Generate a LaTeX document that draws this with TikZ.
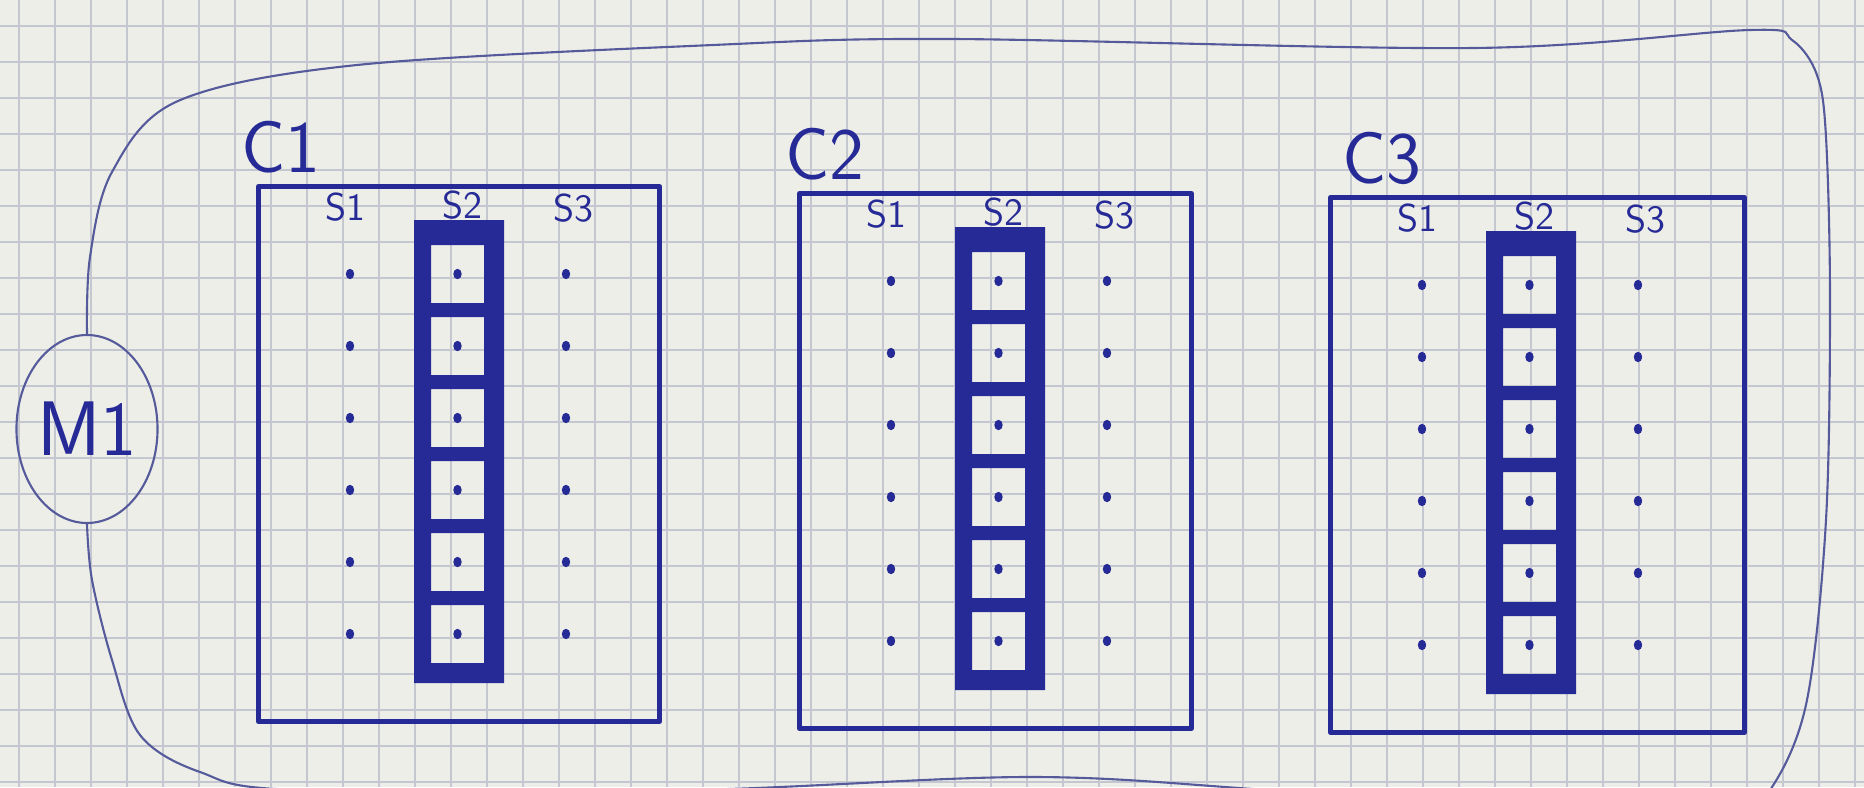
\documentclass[tikz,border=0pt]{standalone}
\usetikzlibrary{shapes.geometric}
\definecolor{paper}{RGB}{238,238,232}
\definecolor{gridc}{RGB}{196,199,208}
\definecolor{ink}{RGB}{38,42,150}
\definecolor{thinink}{RGB}{85,90,155}

\begin{document}
\begin{tikzpicture}[line join=round,
  paperline/.style={gridc, line width=0.45pt},
  cabinet/.style={draw=ink, line width=1.4pt, inner sep=0pt, anchor=north west, minimum height=5.35cm},
  cablabel/.style={ink, font=\sffamily\fontsize{21}{21}\selectfont, inner sep=0pt},
  slabel/.style={ink, font=\sffamily\fontsize{11}{11}\selectfont, inner sep=0pt},
  motor/.style={ellipse, draw=thinink, line width=0.6pt, minimum width=1.26cm, minimum height=1.88cm, inner sep=0pt, text=ink, font=\sffamily\fontsize{22}{22}\selectfont},
  wire/.style={thinink, line width=0.6pt}]
\useasboundingbox (0,0) rectangle (18.64,7.87);
% squared paper
\fill[paper] (0,0) rectangle (18.64,7.87);
\begin{scope}[shift={(0.19,0.05)}]
\draw[paperline, step=0.36] (-0.19,-0.05) grid (18.45,7.82);
\end{scope}
% motor and its loop round the cabinets
\node[motor] (m1) at (0.87,3.58) {M1};
\draw[wire] plot[smooth, tension=0.55] coordinates {(m1.north) (0.90,5.30) (1.12,6.15) (1.78,6.86) (3.57,7.22) (7.13,7.42) (9.51,7.48) (14.74,7.39) (17.50,7.57) (17.92,7.47) (18.17,7.12) (18.26,6.50) (18.30,4.87) (18.26,2.67) (18.07,0.87) (17.72,0.00) (17.30,-0.30) (13.00,-0.05) (10.34,0.10) (6.90,-0.03) (2.97,-0.03) (2.00,0.15) (1.40,0.52) (1.12,1.27) (0.92,2.07) (m1.south)};
% cabinets C1..C3
\foreach \i/\L/\T/\W/\lx in {1/2.56/6.03/4.01/0.25, 2/7.97/5.96/3.92/0.28, 3/13.28/5.92/4.14/0.54}{
  \begin{scope}[shift={(\L,\T)}]
  \node[cabinet, minimum width=\W cm] (C\i) at (0,0) {};
  \node[cablabel] (lab\i) at (\lx,0.37) {C\i};
  \node[slabel] (s\i-1) at (0.89,-0.23) {S1};
  \node[slabel] (s\i-2) at (2.06,-0.21) {S2};
  \node[slabel] (s\i-3) at (3.17,-0.24) {S3};
  % S2 ladder
  \fill[ink, even odd rule] (1.58,-0.36) rectangle (2.48,-4.99)
    \foreach \k in {0,...,5} {(1.75,{-0.61-0.72*\k}) rectangle (2.28,{-1.19-0.72*\k})};
  % points
  \foreach \k in {0,...,5} {
    \fill[ink] (0.94,{-0.90-0.72*\k}) ellipse (0.042 and 0.052);
    \fill[ink] (2.015,{-0.90-0.72*\k}) ellipse (0.042 and 0.052);
    \fill[ink] (3.10,{-0.90-0.72*\k}) ellipse (0.042 and 0.052);
  }
  \end{scope}
}
\end{tikzpicture}
\end{document}
